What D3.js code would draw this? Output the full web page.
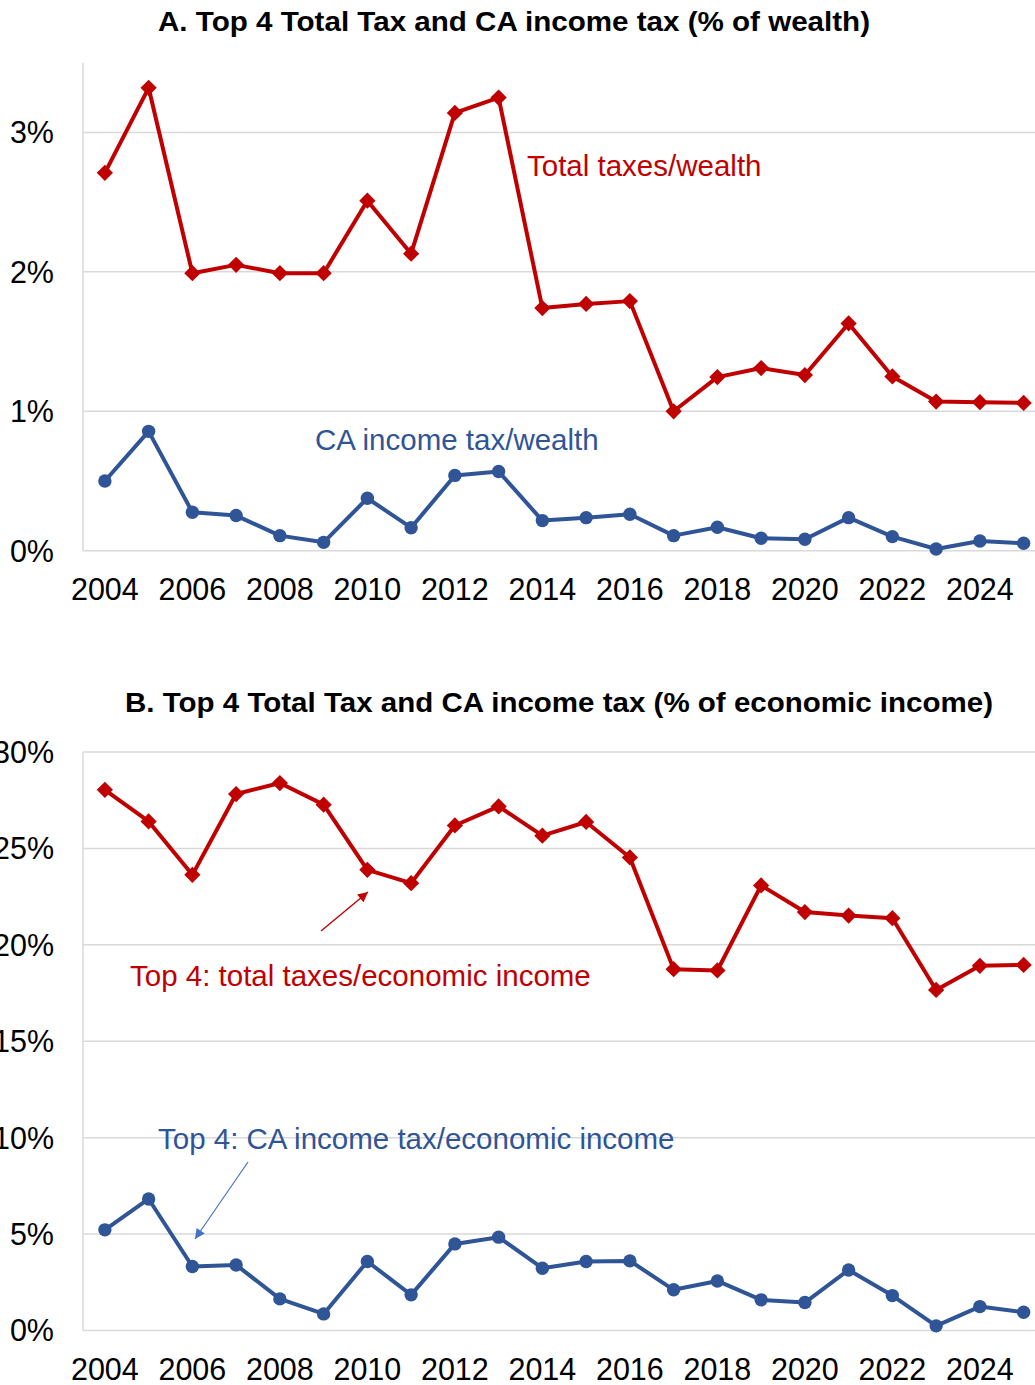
<!DOCTYPE html>
<html>
<head>
<meta charset="utf-8">
<script src="https://cdn.jsdelivr.net/npm/d3@7"></script>
<style>
  html, body { margin: 0; padding: 0; background: #fff; }
  svg { display: block; font-family: "Liberation Sans", Arial, sans-serif; }
</style>
</head>
<body>
<svg id="chart" width="1035" height="1385"></svg>
<script>
// Years on the horizontal axis
const years = d3.range(2004, 2026);
const yearTicks = [2004, 2006, 2008, 2010, 2012, 2014, 2016, 2018, 2020, 2022, 2024];

// Panel A: taxes as % of wealth
const totalTaxWealth = [2.71, 3.32, 1.99, 2.05, 1.99, 1.99, 2.51, 2.13, 3.14, 3.25,
                        1.74, 1.77, 1.79, 1.00, 1.245, 1.31, 1.26, 1.63, 1.25, 1.07, 1.065, 1.06];
const caTaxWealth    = [0.50, 0.856, 0.276, 0.252, 0.108, 0.06, 0.376, 0.165, 0.54, 0.568,
                        0.216, 0.237, 0.261, 0.108, 0.168, 0.089, 0.082, 0.237, 0.101, 0.012, 0.07, 0.053];
const wealthTicks = [0, 1, 2, 3];

// Panel B: taxes as % of economic income
const totalTaxIncome = [28.04, 26.40, 23.63, 27.82, 28.39, 27.27, 23.89, 23.20, 26.19, 27.18,
                        25.66, 26.37, 24.53, 18.74, 18.67, 23.08, 21.70, 21.52, 21.38, 17.66, 18.91, 18.96];
const caTaxIncome    = [5.22, 6.82, 3.32, 3.40, 1.64, 0.86, 3.58, 1.85, 4.49, 4.84,
                        3.23, 3.58, 3.61, 2.11, 2.57, 1.59, 1.45, 3.14, 1.81, 0.24, 1.24, 0.95];
const incomeTicks = [0, 5, 10, 15, 20, 25, 30];

const RED = "#C00000";
const BLUE = "#2F5597";
const GRID = "#D9D9D9";

const svg = d3.select("#chart");

// Shared horizontal scale: one slot per year, point centred in each slot
const x = d3.scalePoint().domain(years).range([83, 1045.5]).padding(0.5);

function drawPanel(cfg) {
  const g = svg.append("g");
  const y = d3.scaleLinear().domain(cfg.domain).range([cfg.bottom, cfg.top]);

  // Horizontal gridlines
  g.append("g").selectAll("line").data(cfg.ticks).join("line")
    .attr("x1", 83).attr("x2", 1035)
    .attr("y1", d => y(d)).attr("y2", d => y(d))
    .attr("stroke", GRID).attr("stroke-width", 1.5);

  // Left axis line
  g.append("line")
    .attr("x1", 83).attr("x2", 83)
    .attr("y1", cfg.top).attr("y2", cfg.bottom)
    .attr("stroke", GRID).attr("stroke-width", 1.5);

  // Y tick labels (the two-digit ones run off the left edge of the page)
  g.append("g").selectAll("text").data(cfg.ticks).join("text")
    .attr("x", 54).attr("y", d => y(d)).attr("dy", "0.36em")
    .attr("text-anchor", "end").attr("font-size", 30.5).attr("fill", "#000")
    .text(d => d + "%");

  // X tick labels
  g.append("g").selectAll("text").data(yearTicks).join("text")
    .attr("x", d => x(d)).attr("y", cfg.bottom + 49)
    .attr("text-anchor", "middle").attr("font-size", 30.5).attr("fill", "#000")
    .text(d => d);

  // Title
  g.append("text")
    .attr("x", cfg.titleX).attr("y", cfg.titleY)
    .attr("text-anchor", "middle").attr("font-size", 28.5).attr("font-weight", "bold")
    .attr("textLength", cfg.titleW).attr("lengthAdjust", "spacingAndGlyphs")
    .text(cfg.title);

  const line = d3.line().x((d, i) => x(years[i])).y(d => y(d));

  // Total taxes series: red line with diamond markers
  g.append("path").datum(cfg.red)
    .attr("d", line).attr("fill", "none")
    .attr("stroke", RED).attr("stroke-width", 4).attr("stroke-linejoin", "round");
  g.append("g").selectAll("path").data(cfg.red).join("path")
    .attr("d", d3.symbol(d3.symbolSquare, 132))
    .attr("transform", (d, i) => `translate(${x(years[i])},${y(d)}) rotate(45)`)
    .attr("fill", RED);

  // CA income tax series: blue line with circle markers
  g.append("path").datum(cfg.blue)
    .attr("d", line).attr("fill", "none")
    .attr("stroke", BLUE).attr("stroke-width", 4).attr("stroke-linejoin", "round");
  g.append("g").selectAll("circle").data(cfg.blue).join("circle")
    .attr("cx", (d, i) => x(years[i])).attr("cy", d => y(d)).attr("r", 6.7)
    .attr("fill", BLUE);

  return g;
}

const gA = drawPanel({
  domain: [0, 3.5], top: 62.7, bottom: 550.7, ticks: wealthTicks,
  red: totalTaxWealth, blue: caTaxWealth,
  title: "A. Top 4 Total Tax and CA income tax (% of wealth)",
  titleX: 514, titleY: 31, titleW: 712
});

const gB = drawPanel({
  domain: [0, 30], top: 752, bottom: 1330.5, ticks: incomeTicks,
  red: totalTaxIncome, blue: caTaxIncome,
  title: "B. Top 4 Total Tax and CA income tax (% of economic income)",
  titleX: 559, titleY: 712, titleW: 868
});

// Series labels
function label(g, text, xPos, yPos, color) {
  g.append("text").attr("x", xPos).attr("y", yPos)
    .attr("font-size", 29.5).attr("fill", color).text(text);
}
label(gA, "Total taxes/wealth", 527, 176, RED);
label(gA, "CA income tax/wealth", 315, 450, BLUE);
label(gB, "Top 4: total taxes/economic income", 130, 986, RED);
label(gB, "Top 4: CA income tax/economic income", 158, 1149, BLUE);

// Arrow markers for the panel B callouts
const defs = svg.append("defs");
[["arrowRed", RED], ["arrowBlue", "#4472C4"]].forEach(([id, c]) => {
  defs.append("marker").attr("id", id)
    .attr("viewBox", "0 0 10 10").attr("refX", 10).attr("refY", 5)
    .attr("markerWidth", 12).attr("markerHeight", 10)
    .attr("markerUnits", "userSpaceOnUse").attr("orient", "auto")
    .append("path").attr("d", "M0,0 L10,5 L0,10 Z").attr("fill", c);
});
gB.append("line").attr("x1", 321).attr("y1", 931).attr("x2", 368).attr("y2", 892)
  .attr("stroke", RED).attr("stroke-width", 1.4).attr("marker-end", "url(#arrowRed)");
gB.append("line").attr("x1", 248).attr("y1", 1162).attr("x2", 195).attr("y2", 1239)
  .attr("stroke", "#4472C4").attr("stroke-width", 1.2).attr("marker-end", "url(#arrowBlue)");
</script>
</body>
</html>
